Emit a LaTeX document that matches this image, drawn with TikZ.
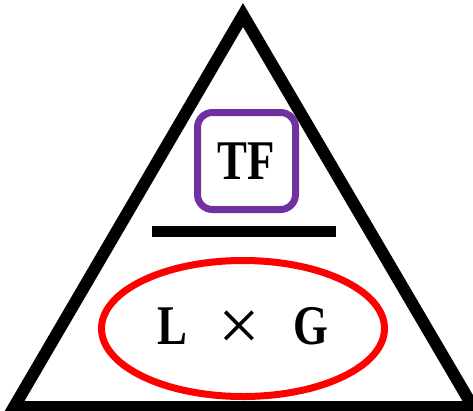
\documentclass[tikz,border=0pt]{standalone}
\usepackage{fontspec}
\setmainfont{Liberation Serif}
\usepackage{graphicx}
\usetikzlibrary{positioning,shapes.geometric}
\definecolor{tfpurple}{RGB}{112,48,160}
\definecolor{lgred}{RGB}{255,0,0}
\newcommand{\narrowtxt}[1]{\scalebox{0.8}[1]{#1}}

\begin{document}
\begin{tikzpicture}[
    x=1pt, y=-1pt,
    edge/.style={draw, line width=12pt, line join=miter},
    bar/.style={draw, line width=11pt},
    tfbox/.style={draw=tfpurple, line width=7pt, rounded corners=15pt, minimum width=98pt, minimum height=97pt, inner sep=0pt},
    lgring/.style={ellipse, draw=lgred, line width=7pt, minimum width=283pt, minimum height=136pt, inner sep=0pt},
    lbl/.style={font=\fontsize{56}{60}\selectfont\bfseries},
  ]
    \useasboundingbox (0,0) rectangle (473,410);
    \clip (0,0) rectangle (473,410);
    % outer triangle
    \coordinate (top) at (243,15);
    \coordinate (bl) at (14,407);
    \coordinate (br) at (473,407);
    \draw[edge] (top) -- (bl) -- (br) -- cycle;
    % numerator and denominator
    \node[tfbox, lbl] (tf) at (246.5,161) {\raisebox{-4pt}{\narrowtxt{TF}}};
    \coordinate (barL) at (152,231.5);
    \coordinate (barR) at (336,231.5);
    \draw[bar] (barL) -- (barR);
    \node[lgring, lbl] (lg) at (243,328.5) {\narrowtxt{L}\hspace{31.5pt}\raisebox{-6pt}{\mdseries\fontsize{74}{80}\selectfont ×}\hspace{33.5pt}\narrowtxt{G}\hspace{-6pt}};
  \end{tikzpicture}
\end{document}
